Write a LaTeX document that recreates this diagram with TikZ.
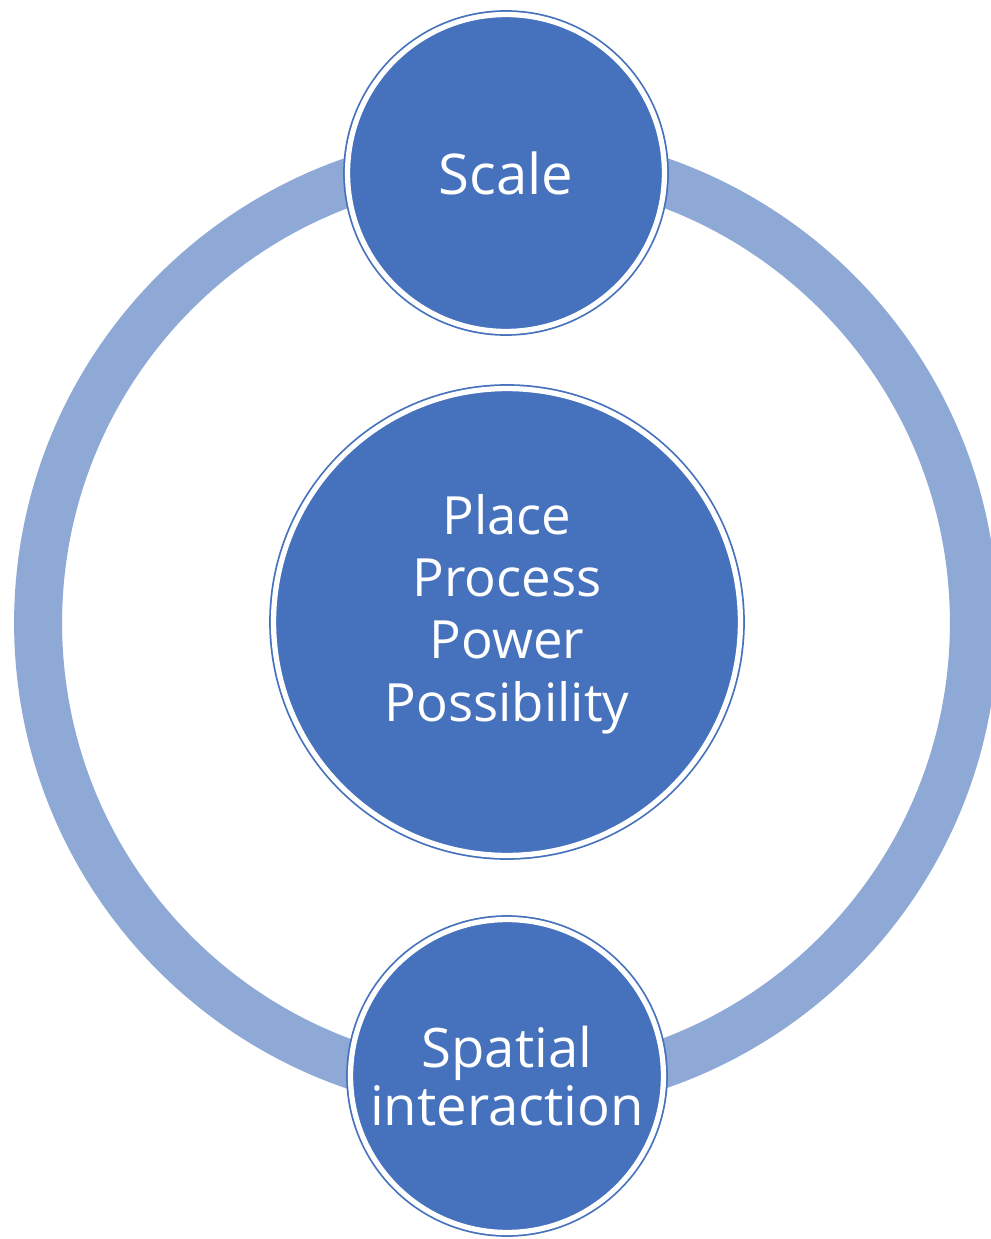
\documentclass[tikz,border=0pt]{standalone}
\usepackage{fontspec}
\setmainfont{Open Sans}

\definecolor{darkblue}{RGB}{70,113,188}
\definecolor{lightblue}{RGB}{143,169,214}

\begin{document}
\begin{tikzpicture}[x=0.02cm,y=-0.02cm,
   ring/.style={draw=lightblue,line width=0.96cm},
   bubble/.style={circle,fill=darkblue,draw=darkblue,double=white,
      double distance=3pt,line width=1pt,inner sep=0pt,
      text=white,align=center},
   bigtext/.style={font=\fontsize{30}{35.5}\selectfont}]

\useasboundingbox (0,0) rectangle (990,1239);

\draw[ring] (506,623) circle[radius=9.36cm];

\node[bubble,minimum size=6.34cm,font=\fontsize{32}{38}\selectfont] (scale) at (506,173) {Scale};
\node[bubble,bigtext,minimum size=9.34cm,text depth=0.57cm] (core) at (507,622)
   {Place\\Process\\Power\\Possibility};
\node[bubble,minimum size=6.26cm,font=\fontsize{31}{33}\selectfont] (spatial) at (507,1076)
   {Spatial\\interaction};

\end{tikzpicture}
\end{document}
